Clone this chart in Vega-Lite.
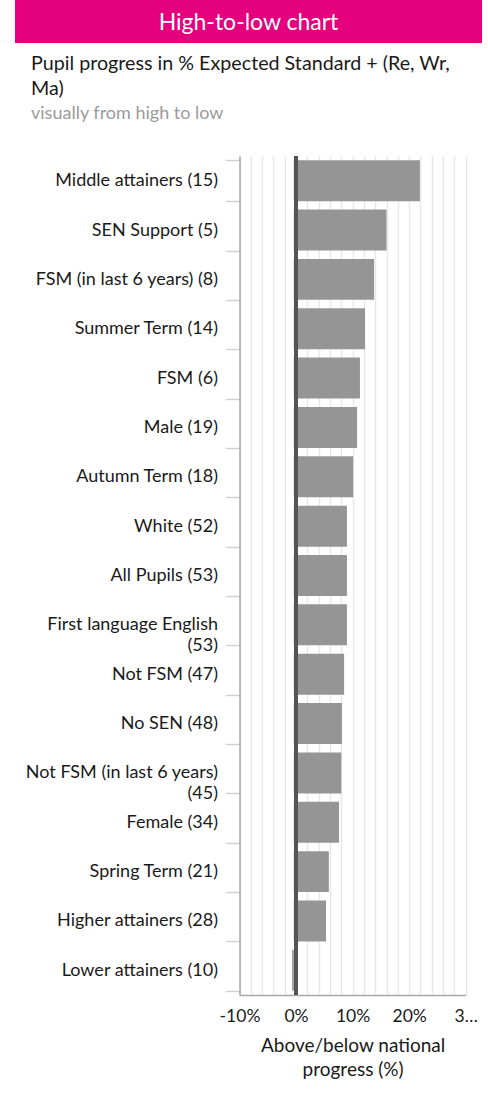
{
  "$schema": "https://vega.github.io/schema/vega-lite/v6.json",
  "background": "white",
  "padding": {"left": 15, "top": 0, "right": 5, "bottom": 5},
  "spacing": 10,
  "config": {
    "font": "Lato",
    "view": {"stroke": null}
  },
  "vconcat": [
    {
      "width": 467,
      "height": 43,
      "view": {"fill": "#e5007e", "stroke": null},
      "data": {"values": [{"heading": "High-to-low chart"}]},
      "mark": {"type": "text", "color": "white", "fontSize": 23, "baseline": "middle", "align": "center", "dy": 1, "font": "Lato"},
      "encoding": {"text": {"field": "heading"}}
    },
    {
      "width": 451,
      "height": 839,
      "title": {
        "text": ["Pupil progress in % Expected Standard + (Re, Wr,", "Ma)"],
        "subtitle": "visually from high to low",
        "anchor": "start",
        "frame": "group",
        "dx": 16,
        "fontSize": 19.7,
        "fontWeight": "normal",
        "lineHeight": 25.5,
        "color": "#1a1a1a",
        "subtitleFontSize": 18,
        "subtitleColor": "#9a9a9a",
        "subtitlePadding": 6,
        "offset": 24
      },
      "data": {
        "values": [
          {"group": "Middle attainers (15)", "progress": 21.9},
          {"group": "SEN Support (5)", "progress": 16.0},
          {"group": "FSM (in last 6 years) (8)", "progress": 13.8},
          {"group": "Summer Term (14)", "progress": 12.2},
          {"group": "FSM (6)", "progress": 11.3},
          {"group": "Male (19)", "progress": 10.8},
          {"group": "Autumn Term (18)", "progress": 10.1},
          {"group": "White (52)", "progress": 9.0},
          {"group": "All Pupils (53)", "progress": 9.0},
          {"group": "First language English|(53)", "progress": 9.0},
          {"group": "Not FSM (47)", "progress": 8.5},
          {"group": "No SEN (48)", "progress": 8.1},
          {"group": "Not FSM (in last 6 years)|(45)", "progress": 8.0},
          {"group": "Female (34)", "progress": 7.6},
          {"group": "Spring Term (21)", "progress": 5.8},
          {"group": "Higher attainers (28)", "progress": 5.3},
          {"group": "Lower attainers (10)", "progress": -0.7}
        ]
      },
      "layer": [
        {
          "mark": {"type": "bar", "color": "#959595"},
          "encoding": {
            "y": {
              "field": "group",
              "type": "nominal",
              "sort": null,
              "scale": {"paddingInner": 0.17, "paddingOuter": 0.085},
              "axis": {
                "title": null,
                "offset": -224.5,
                "tickBand": "extent",
                "tickSize": 14,
                "tickColor": "#d2d2d2",
                "tickWidth": 1.5,
                "domainColor": "#a8a8a8",
                "domainWidth": 1.5,
                "labelFontSize": 18,
                "labelColor": "#1a1a1a",
                "labelPadding": 8,
                "labelLimit": 300,
                "labelLineHeight": 21,
                "labelExpr": "split(datum.label, '|')",
                "grid": false
              }
            },
            "x": {
              "field": "progress",
              "type": "quantitative",
              "scale": {"domain": [-10, 30], "nice": false, "range": [224.5, 450.7]},
              "axis": {
                "values": [-10, -8, -6, -4, -2, 0, 2, 4, 6, 8, 10, 12, 14, 16, 18, 20, 22, 24, 26, 28, 30],
                "grid": true,
                "gridColor": "#e8e8e8",
                "gridWidth": 1.5,
                "ticks": false,
                "domainColor": "#a8a8a8",
                "domainWidth": 1.5,
                "labelExpr": "datum.value % 10 == 0 ? (datum.value == 30 ? '3…' : datum.value + '%') : ''",
                "labelFontSize": 17.5,
                "labelColor": "#1a1a1a",
                "labelPadding": 12,
                "labelFlush": false,
                "labelOverlap": false,
                "title": ["Above/below national", "progress (%)"],
                "titleFontSize": 19,
                "titleFontWeight": "normal",
                "titleColor": "#1a1a1a",
                "titleLineHeight": 24,
                "titlePadding": 12
              }
            },
            "x2": {"datum": -0.4}
          }
        },
        {
          "mark": {"type": "rule", "color": "#555555", "strokeWidth": 3},
          "encoding": {
            "x": {
              "datum": 0,
              "type": "quantitative",
              "scale": {"domain": [-10, 30], "nice": false, "range": [224.5, 450.7]},
              "axis": {
                "values": [-10, -8, -6, -4, -2, 0, 2, 4, 6, 8, 10, 12, 14, 16, 18, 20, 22, 24, 26, 28, 30],
                "grid": true,
                "gridColor": "#e8e8e8",
                "gridWidth": 1.5,
                "ticks": false,
                "domainColor": "#a8a8a8",
                "domainWidth": 1.5,
                "labelExpr": "datum.value % 10 == 0 ? (datum.value == 30 ? '3…' : datum.value + '%') : ''",
                "labelFontSize": 17.5,
                "labelColor": "#1a1a1a",
                "labelPadding": 12,
                "labelFlush": false,
                "labelOverlap": false,
                "title": ["Above/below national", "progress (%)"],
                "titleFontSize": 19,
                "titleFontWeight": "normal",
                "titleColor": "#1a1a1a",
                "titleLineHeight": 24,
                "titlePadding": 12
              }
            }
          }
        }
      ]
    }
  ]
}
